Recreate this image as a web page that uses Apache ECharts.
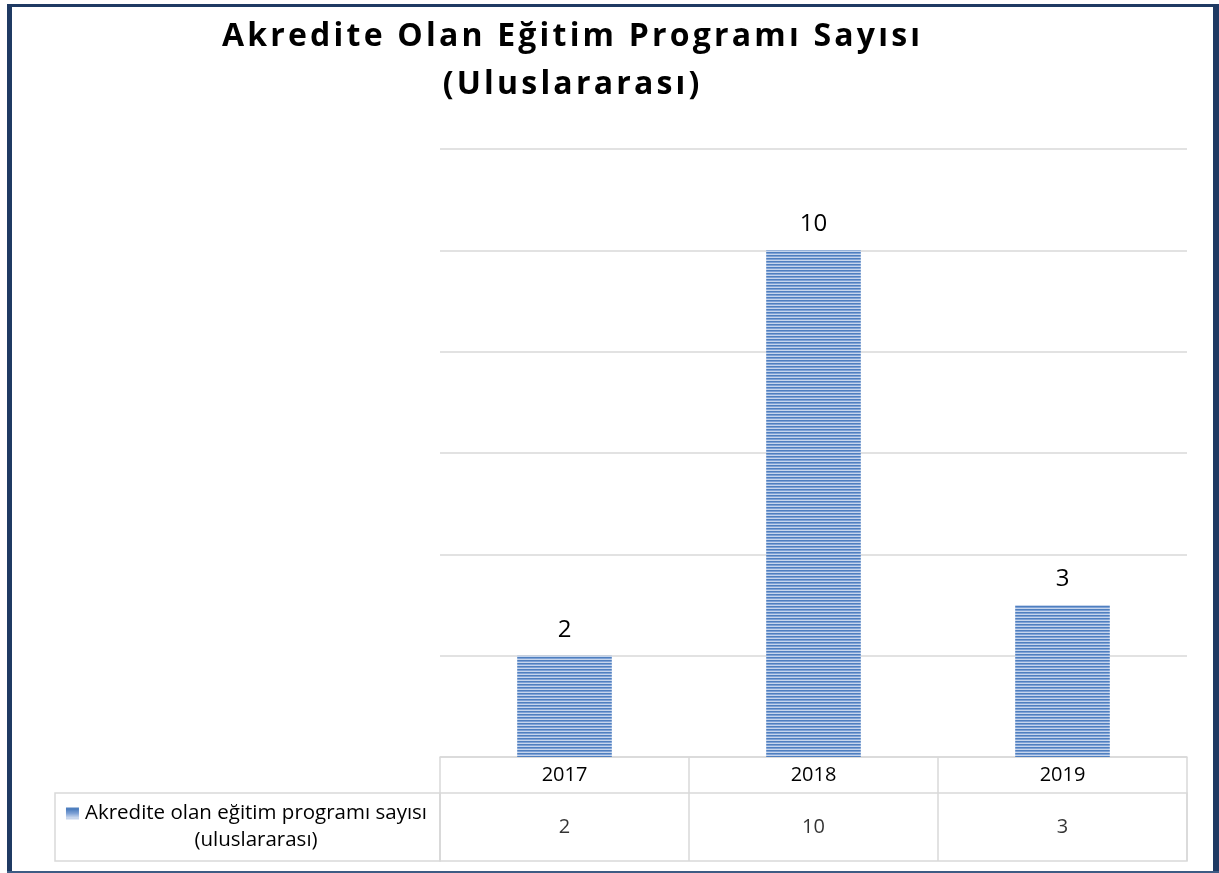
<!DOCTYPE html>
<html>
<head>
<meta charset="utf-8">
<script src="https://cdn.jsdelivr.net/npm/echarts@6/dist/echarts.min.js"></script>
<style>
  html, body { margin: 0; padding: 0; background: #fff; }
  #chart { width: 1219px; height: 873px; }
</style>
</head>
<body>
<div id="chart"></div>
<script>
(function () {
  "use strict";

  var YEARS = ["2017", "2018", "2019"];
  var VALUES = [2, 10, 3];
  var SERIES_NAME = "Akredite olan eğitim programı sayısı";
  var SERIES_NAME_2 = "(uluslararası)";
  var TITLE_1 = "Akredite Olan Eğitim Programı Sayısı";
  var TITLE_2 = "(Uluslararası)";
  var Y_MAX = 12;
  var Y_STEP = 2;

  var FONT = "'Open Sans', sans-serif";
  var GRID_LINE = "#d9d9d9";
  var FRAME = "#1f3a63";

  // spread letters a bit, the original title is letter-spaced
  function spaced(s) {
    return s.split("").join("\u200A");
  }

  // horizontal stripe fill like the excel pattern
  function stripes() {
    var c = document.createElement("canvas");
    c.width = 4; c.height = 3;
    var ctx = c.getContext("2d");
    var rows = ["#4f7fbf", "#7fa2d6", "#c6d5ec"];
    rows.forEach(function (col, i) {
      ctx.fillStyle = col;
      ctx.fillRect(0, i, 4, 1);
    });
    return c;
  }
  var pattern = stripes();

  var chart = echarts.init(document.getElementById("chart"), null, { renderer: "canvas" });

  chart.setOption({
    backgroundColor: "#fff",
    animation: false,
    textStyle: { fontFamily: FONT, color: "#000" },
    title: {
      text: spaced(TITLE_1) + "\n" + spaced(TITLE_2),
      left: 566,
      top: 8,
      textAlign: "center",
      textStyle: { fontFamily: FONT, fontSize: 32, fontWeight: "bold", color: "#000", lineHeight: 48 },
    },
    grid: [
      { left: 440, right: 32, top: 149, bottom: 116 },
      { left: 440, right: 32, top: 793, height: 68, show: true, borderColor: GRID_LINE, borderWidth: 1.5, backgroundColor: "transparent" },
    ],
    xAxis: [
      {
        type: "category", gridIndex: 0, data: YEARS,
        axisLine: { lineStyle: { color: GRID_LINE, width: 1.5 } },
        axisTick: { show: true, length: 36, lineStyle: { color: GRID_LINE, width: 1.5 } },
        axisLabel: { color: "#000", fontSize: 20, fontFamily: FONT, margin: 8 },
      },
      {
        type: "category", gridIndex: 1, data: YEARS,
        axisLine: { show: false }, axisTick: { show: false }, axisLabel: { show: false },
        splitLine: { show: true, lineStyle: { color: GRID_LINE, width: 1.5 } },
      },
    ],
    yAxis: [
      {
        type: "value", gridIndex: 0, min: 0, max: Y_MAX, interval: Y_STEP,
        axisLine: { show: false }, axisTick: { show: false }, axisLabel: { show: false },
        splitLine: { lineStyle: { color: GRID_LINE, width: 1.5 } },
      },
      {
        type: "category", gridIndex: 1, data: [SERIES_NAME],
        axisLine: { show: false }, axisTick: { show: false },
        splitLine: { show: false },
        axisLabel: {
          margin: 184,
          align: "center",
          fontSize: 20.5,
          lineHeight: 27,
          color: "#000",
          fontFamily: FONT,
          formatter: function () {
            return "{icon|}{gap|}" + SERIES_NAME + "{pad|}\n" + SERIES_NAME_2;
          },
          rich: {
            icon: { width: 13, height: 12, backgroundColor: { image: pattern, repeat: "repeat" } },
            gap: { width: 6 },
            pad: { width: 19 },
          },
        },
      },
    ],
    series: [
      {
        type: "bar",
        name: SERIES_NAME,
        xAxisIndex: 0, yAxisIndex: 0,
        data: VALUES,
        barWidth: "38%",
        itemStyle: { color: { image: pattern, repeat: "repeat" } },
        label: { show: true, position: "top", distance: 14, fontSize: 24, color: "#000", fontFamily: FONT },
      },
      {
        // values row of the data table
        type: "scatter",
        xAxisIndex: 1, yAxisIndex: 1,
        symbolSize: 1,
        itemStyle: { color: "transparent" },
        data: YEARS.map(function (y, i) { return [y, SERIES_NAME, VALUES[i]]; }),
        label: {
          show: true, position: "inside", fontSize: 20, color: "#000", fontFamily: FONT,
          formatter: function (p) { return p.value[2]; },
        },
      },
    ],
    graphic: [
      // label cell of the data table
      { type: "rect", shape: { x: 55, y: 793, width: 385, height: 68 }, style: { fill: "none", stroke: GRID_LINE, lineWidth: 1.5 } },
      // dark frame
      { type: "rect", shape: { x: 7, y: 4, width: 5, height: 869 }, style: { fill: FRAME } },
      { type: "rect", shape: { x: 7, y: 4, width: 1212, height: 3 }, style: { fill: FRAME } },
      { type: "rect", shape: { x: 1213, y: 4, width: 6, height: 869 }, style: { fill: FRAME } },
      { type: "rect", shape: { x: 7, y: 871, width: 1212, height: 2 }, style: { fill: "#3d5c84" } },
    ],
  });

  window.addEventListener("resize", function () { chart.resize(); });
})();
</script>
</body>
</html>
